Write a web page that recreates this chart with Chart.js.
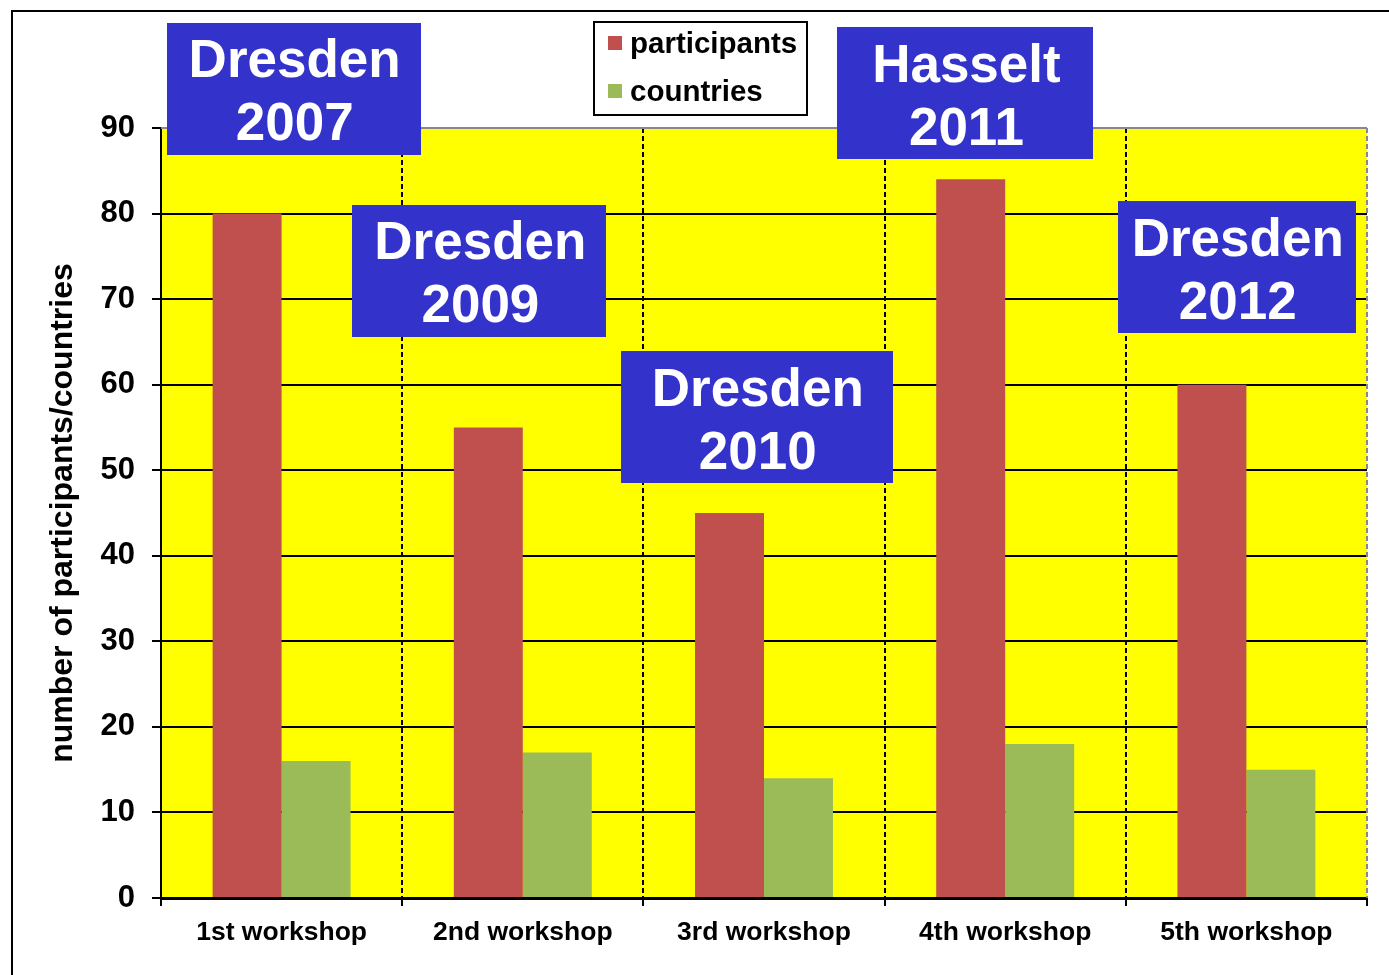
<!DOCTYPE html>
<html>
<head>
<meta charset="utf-8">
<script src="https://cdn.jsdelivr.net/npm/chart.js@4/dist/chart.umd.min.js"></script>
<style>
  html, body { margin: 0; padding: 0; background: #fff; }
  #wrap { width: 1389px; height: 975px; position: relative; }
</style>
</head>
<body>
<div id="wrap"><canvas id="chart" width="1389" height="975"></canvas></div>
<script>
const workshops = ['1st workshop', '2nd workshop', '3rd workshop', '4th workshop', '5th workshop'];
const participants = [80, 55, 45, 84, 60];
const countries = [16, 17, 14, 18, 15];
const venues = ['Dresden', 'Dresden', 'Dresden', 'Hasselt', 'Dresden'];
const years = ['2007', '2009', '2010', '2011', '2012'];
const yTicks = [0, 10, 20, 30, 40, 50, 60, 70, 80, 90];

const FONT = '"Liberation Sans", Arial, Helvetica, sans-serif';

// where each venue box sits: x as category index, y as axis value
const boxPlace = [
  { x: 0.05, y: 94.6, w: 254 },
  { x: 0.82, y: 73.3, w: 254 },
  { x: 1.97, y: 56.2, w: 272 },
  { x: 2.835, y: 94.1, w: 256 },
  { x: 3.96, y: 73.7, w: 238 },
];

const background = {
  id: 'background',
  beforeDraw: (chart) => {
    const ctx = chart.ctx;
    const a = chart.chartArea;
    ctx.save();
    ctx.fillStyle = '#ffff00';
    ctx.fillRect(a.left, a.top, a.right - a.left, a.bottom - a.top);
    // outer frame
    ctx.strokeStyle = '#000';
    ctx.lineWidth = 2;
    ctx.beginPath();
    ctx.moveTo(12, 975);
    ctx.lineTo(12, 11);
    ctx.lineTo(1389, 11);
    ctx.stroke();
    ctx.restore();
  }
};

const plotEdges = {
  id: 'plotEdges',
  afterDatasetsDraw: (chart) => {
    const ctx = chart.ctx;
    const a = chart.chartArea;
    ctx.save();
    ctx.strokeStyle = '#888';
    ctx.lineWidth = 2;
    ctx.beginPath();
    ctx.moveTo(a.left, a.top);
    ctx.lineTo(a.right, a.top);
    ctx.stroke();
    ctx.setLineDash([5, 3]);
    ctx.beginPath();
    ctx.moveTo(a.right, a.top);
    ctx.lineTo(a.right, a.bottom);
    ctx.stroke();
    ctx.restore();
  }
};

const venueBoxes = {
  id: 'venueBoxes',
  afterDraw: (chart) => {
    const ctx = chart.ctx;
    const xs = chart.scales.x;
    const ys = chart.scales.y;
    ctx.save();
    boxPlace.forEach((p, i) => {
      const cx = xs.getPixelForValue(p.x);
      const cy = ys.getPixelForValue(p.y);
      const h = 132;
      ctx.fillStyle = '#3333cc';
      ctx.fillRect(Math.round(cx - p.w / 2), Math.round(cy - h / 2), p.w, h);
      ctx.fillStyle = '#fff';
      ctx.font = 'bold 53px ' + FONT;
      ctx.textAlign = 'center';
      ctx.textBaseline = 'middle';
      ctx.fillText(venues[i], cx + 1, cy - 26);
      ctx.fillText(years[i], cx + 1, cy + 37);
    });
    ctx.restore();
  }
};

const boxLegend = {
  id: 'boxLegend',
  afterDraw: (chart) => {
    const ctx = chart.ctx;
    ctx.save();
    ctx.fillStyle = '#fff';
    ctx.fillRect(594, 22, 213, 93);
    ctx.strokeStyle = '#000';
    ctx.lineWidth = 2;
    ctx.strokeRect(594, 22, 213, 93);
    ctx.font = 'bold 29.5px ' + FONT;
    ctx.textBaseline = 'middle';
    ctx.textAlign = 'left';
    chart.data.datasets.forEach((ds, i) => {
      const y = 45 + i * 48;
      ctx.fillStyle = ds.backgroundColor;
      ctx.fillRect(608, y - 9, 14, 14);
      ctx.fillStyle = '#000';
      ctx.fillText(ds.label, 630, y);
    });
    ctx.restore();
  }
};

new Chart(document.getElementById('chart'), {
  type: 'bar',
  data: {
    labels: workshops,
    datasets: [
      { label: 'participants', data: participants, backgroundColor: '#c0504d' },
      { label: 'countries', data: countries, backgroundColor: '#9bbb59' },
    ]
  },
  plugins: [background, plotEdges, venueBoxes, boxLegend],
  options: {
    responsive: false,
    animation: false,
    devicePixelRatio: 1,
    layout: { padding: { left: 0, top: 128, right: 22, bottom: 0 } },
    categoryPercentage: 0.572,
    barPercentage: 1,
    plugins: {
      legend: { display: false },
      tooltip: { enabled: false },
    },
    scales: {
      x: {
        afterFit: (s) => { s.height = 77; },
        grid: {
          color: '#000',
          lineWidth: 2,
          offset: true,
          tickLength: 8,
          tickBorderDash: [],
        },
        border: { color: '#000', width: 3, dash: [5, 3] },
        ticks: {
          color: '#000',
          padding: 11,
          font: { family: FONT, size: 26.5, weight: 'bold' },
        },
      },
      y: {
        min: 0,
        max: 90,
        afterFit: (s) => { s.width = 161; },
        afterBuildTicks: (s) => { s.ticks = yTicks.map(v => ({ value: v })); },
        grid: {
          color: (c) => c.tick && c.tick.value === 90 ? 'rgba(0,0,0,0)' : '#000',
          lineWidth: 2,
          tickLength: 9,
          tickColor: '#000',
        },
        border: { color: '#000', width: 2 },
        ticks: {
          color: '#000',
          padding: 17,
          font: { family: FONT, size: 31, weight: 'bold' },
        },
        title: {
          display: true,
          text: 'number of participants/countries',
          color: '#000',
          padding: { top: 44, bottom: 0 },
          font: { family: FONT, size: 32, weight: 'bold' },
        },
      },
    },
  },
});
</script>
</body>
</html>
